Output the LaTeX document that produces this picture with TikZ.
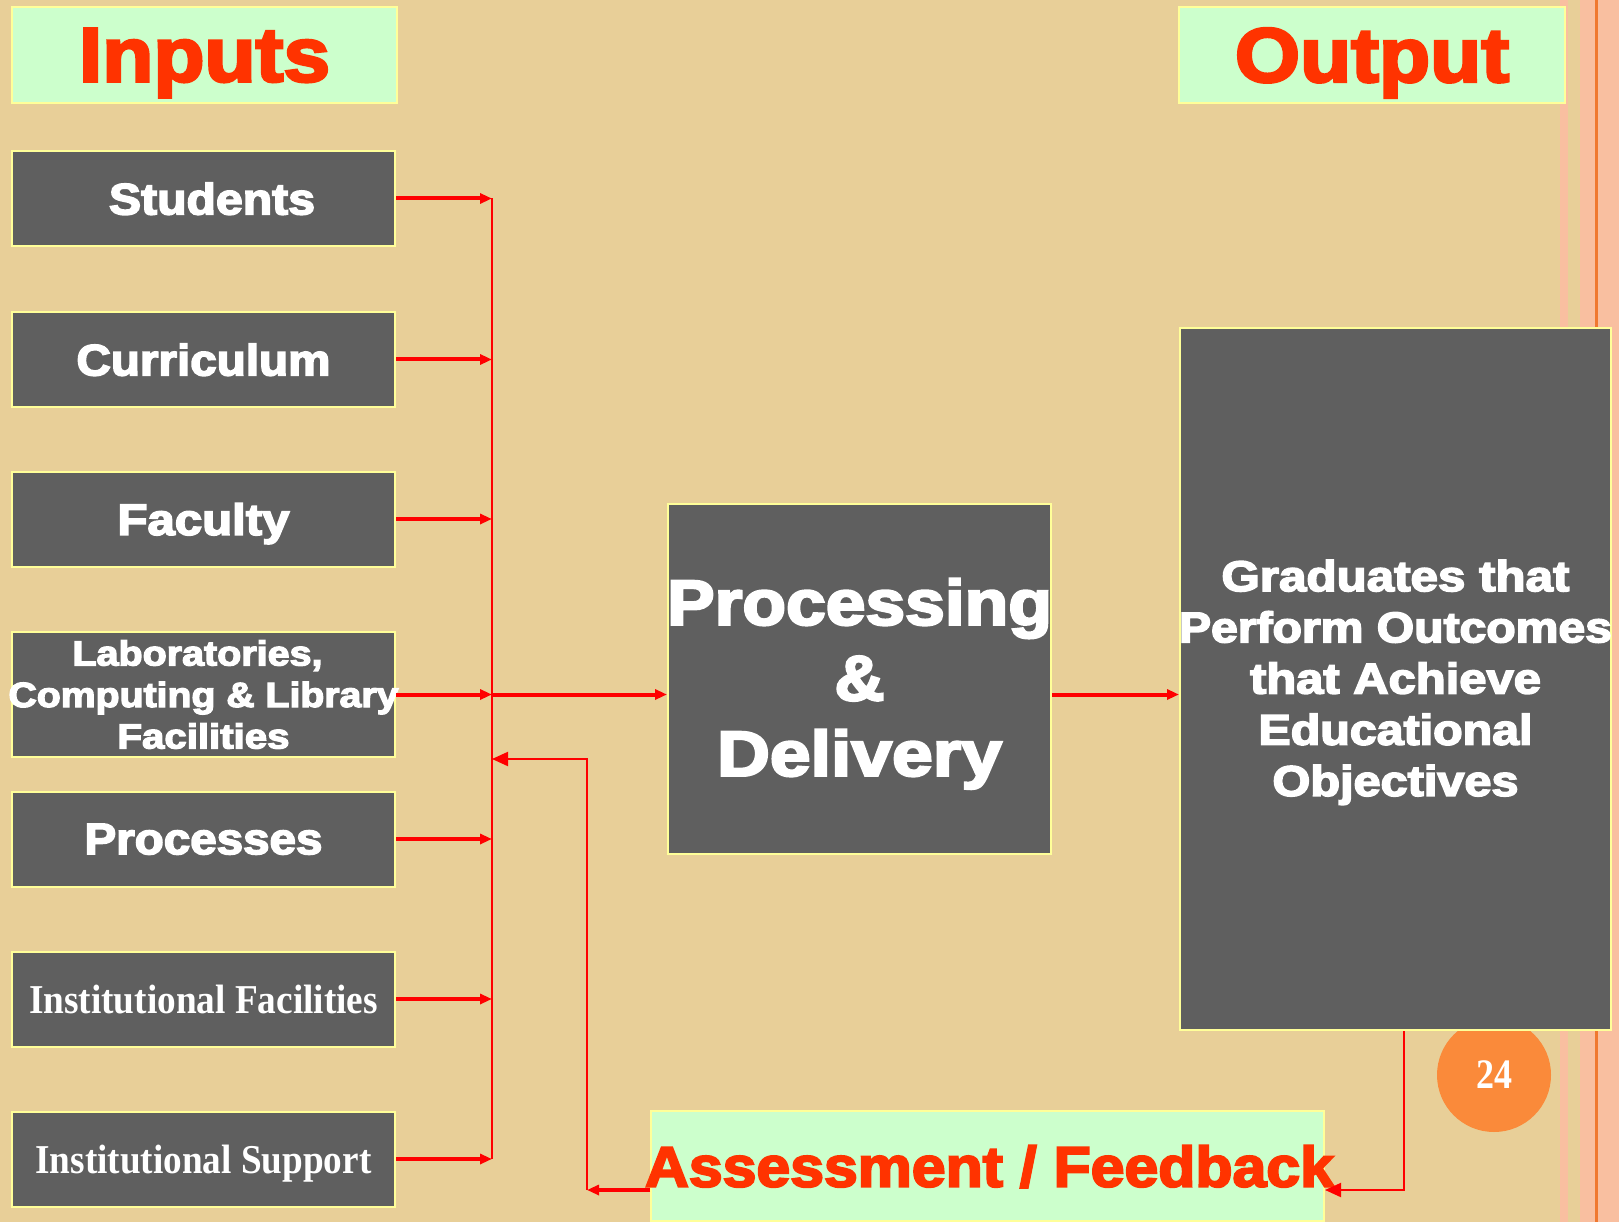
\documentclass[tikz,border=0pt]{standalone}
\usepackage{fontspec}
\usepackage{graphicx}
\usetikzlibrary{arrows.meta}
\newfontfamily\blk{Liberation Sans}[BoldFeatures={FakeBold=3.5}]
\newfontfamily\srf{Liberation Serif}
\definecolor{bgc}{HTML}{E8CF98}
\definecolor{mint}{HTML}{CCFFCC}
\definecolor{yel}{HTML}{FFFF99}
\definecolor{tred}{HTML}{FF3300}
\definecolor{dgray}{HTML}{5F5F5F}
\definecolor{pgorange}{HTML}{FA8A3A}
\definecolor{pinkband}{HTML}{F9BFA0}
\definecolor{oline}{HTML}{F07830}
\definecolor{ared}{HTML}{FF0000}
\newcommand\tw[2]{\resizebox{#1pt}{\height}{#2}}
\newcommand\ow[2]{\makebox[0pt]{\resizebox{#1pt}{\height}{#2}}}
\begin{document}
\begin{tikzpicture}[x=1pt,y=-1pt,
  title/.style={draw=yel, line width=2pt, fill=mint, text=tred, inner sep=0pt,
    font=\blk\bfseries\fontsize{77}{80}\selectfont, text depth=0pt},
  inbox/.style={draw=yel, line width=2pt, fill=dgray, text=white, inner sep=0pt,
    minimum width=383pt, minimum height=95pt, font=\blk\bfseries\fontsize{44}{48}\selectfont},
  serifbox/.style={inbox, font=\srf\bfseries\fontsize{41}{45}\selectfont, text depth=0pt},
  bigbox/.style={draw=yel, line width=2pt, fill=dgray, text=white, inner sep=0pt, align=center},
  thk/.style={draw=ared, line width=4pt, -{Triangle[length=12pt,width=10pt]}},
  thn/.style={draw=ared, line width=2pt},
  thnarr/.style={draw=ared, line width=2pt, -{Triangle[length=16pt,width=14pt]}}
]
% background
\fill[bgc] (0,0) rectangle (1619,1222);
\useasboundingbox (0,0) rectangle (1619,1222);
\fill[pinkband] (1560,0) rectangle (1568,1222);
\fill[pinkband] (1580,0) rectangle (1619,1222);
\fill[oline] (1595,0) rectangle (1597.5,1222);

% page number
\node[circle, fill=pgorange, minimum size=114pt, inner sep=0pt, text=white,
  font=\srf\bfseries\fontsize{42}{44}\selectfont] (pg) at (1494,1075) {\tw{36}{24}};

% titles
\node[title, minimum width=385pt, minimum height=96pt] (inputs) at (204.5,55) {\tw{251}{Inputs}};
\node[title, minimum width=386pt, minimum height=96pt] (output) at (1372,55) {\tw{274}{Output}};

% input boxes
\node[inbox, text depth=0pt] (stu) at (203.5,198.5) {\hspace*{17pt}\tw{206}{Students}};
\node[inbox, text depth=0pt] (cur) at (203.5,359.5) {\tw{254}{Curriculum}};
\node[inbox, text depth=0pt] (fac) at (203.5,519) {\tw{172}{Faculty}};
\node[inbox, minimum height=125pt, align=center, font=\blk\bfseries\fontsize{35}{41.5}\selectfont]
  (lab) at (203.5,694.5) {\hspace*{-12pt}\tw{250}{Laboratories,}\\\ow{390}{Computing \& Library}\\\tw{172}{Facilities}};
\node[inbox, text depth=0pt] (pro) at (203.5,839) {\tw{238}{Processes}};
\node[serifbox] (ifa) at (203.5,999) {\tw{349}{Institutional Facilities}};
\node[serifbox] (isu) at (203.5,1159) {\tw{336}{Institutional Support}};

% processing
\node[bigbox, minimum width=383pt, minimum height=350pt,
  font=\blk\bfseries\fontsize{64}{75.5}\selectfont] (proc) at (859.5,679)
  {\rule{0pt}{56pt}\ow{385}{Processing}\\\tw{50}{\&}\\\tw{285}{Delivery}};

% graduates
\node[bigbox, minimum width=431pt, minimum height=702pt,
  font=\blk\bfseries\fontsize{43}{51.2}\selectfont] (grad) at (1395.5,679)
  {\rule{0pt}{38pt}\tw{348}{Graduates that}\\\ow{433}{Perform Outcomes}\\\tw{291}{that Achieve}\\\tw{274}{Educational}\\\tw{246}{Objectives}};

% assessment
\node[title, minimum width=673pt, minimum height=110pt,
  font=\blk\bfseries\fontsize{57}{60}\selectfont] (assess) at (987.5,1166)
  {\hspace*{4pt}\ow{689}{Assessment / Feedback}};

% bus and connectors
\coordinate (bus) at (492,0);
\coordinate (fbR) at (1404,1190);
\coordinate (fbL) at (587,1190);
\coordinate (fbin) at (587,759);

\draw[thn] (stu.east -| bus) -- (isu.east -| bus);
\foreach \n in {stu,cur,fac,lab,pro,ifa,isu}
  \draw[thk] (\n.east) -- (\n.east -| bus);
\draw[thk] (lab.east -| bus) -- (lab.east -| proc.west);
\draw[thk] (lab.east -| proc.east) -- (lab.east -| grad.west);

% feedback loop
\draw[thnarr] (grad.south -| fbR) -- (fbR) -- (assess.east |- fbR);
\draw[thk] (assess.west |- fbR) -- (fbL);
\draw[thnarr] (fbL) -- (fbin) -- (fbin -| bus);
\end{tikzpicture}
\end{document}
